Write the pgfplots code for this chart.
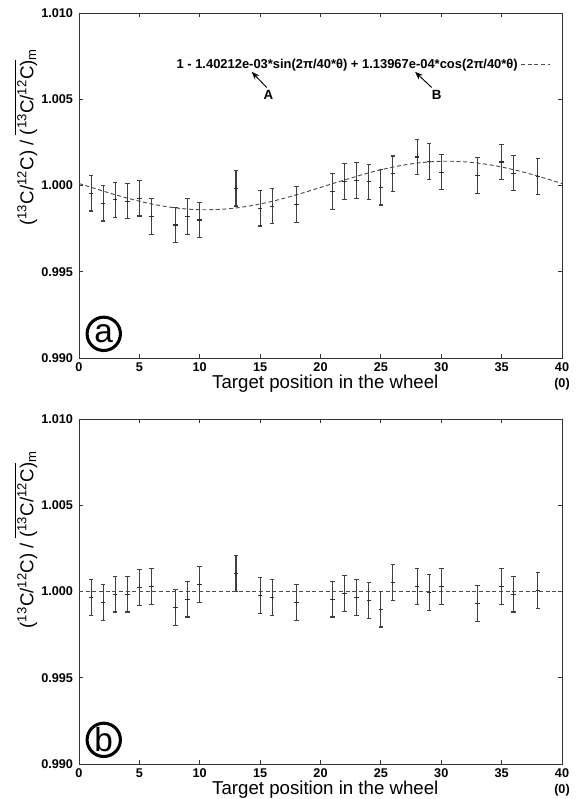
\documentclass[border=0pt]{standalone}
\usepackage{fontspec}
\setmainfont{Liberation Sans}
\usepackage{pgfplots}
\pgfplotsset{compat=1.18}
\usetikzlibrary{arrows.meta}

% measured ratios, top panel (raw)
\pgfplotstableread{
x y e
1 0.99955 0.00103
2 0.99897 0.00103
3 0.99917 0.00103
4 0.99909 0.00103
5 0.99926 0.00103
6 0.99820 0.00103
8 0.99771 0.00103
9 0.99820 0.00103
10 0.99800 0.00103
13 0.99984 0.00103
15 0.99868 0.00103
16 0.99880 0.00103
18 0.99890 0.00103
21 0.99964 0.00103
22 1.00023 0.00103
23 1.00029 0.00103
24 1.00021 0.00103
25 0.99990 0.00103
26 1.00068 0.00103
28 1.00165 0.00103
29 1.00140 0.00103
30 1.00078 0.00103
33 1.00058 0.00103
35 1.00136 0.00103
36 1.00072 0.00103
38 1.00052 0.00103
}\topdata

% fitted curve, read at each position
\pgfplotstableread{
x y
0 1.000114
1 0.999893
2 0.999675
3 0.999465
4 0.999268
5 0.999089
6 0.998933
7 0.998802
8 0.998702
9 0.998633
10 0.998598
11 0.998597
12 0.998631
13 0.998699
14 0.998799
15 0.998928
16 0.999084
17 0.999262
18 0.999458
19 0.999668
20 0.999886
21 1.000107
22 1.000325
23 1.000535
24 1.000732
25 1.000911
26 1.001067
27 1.001198
28 1.001298
29 1.001367
30 1.001402
31 1.001403
32 1.001369
33 1.001301
34 1.001201
35 1.001072
36 1.000916
37 1.000738
38 1.000542
39 1.000332
40 1.000114
}\fitdata

% corrected ratios, bottom panel
\pgfplotstableread{
x y e
1 0.99965 0.00104
2 0.99937 0.00104
3 0.99985 0.00104
4 0.99985 0.00104
5 1.00023 0.00104
6 1.00031 0.00104
8 0.99908 0.00104
9 0.99956 0.00104
10 1.00042 0.00104
13 1.00105 0.00104
15 0.99975 0.00104
16 0.99966 0.00104
18 0.99937 0.00104
21 0.99956 0.00104
22 0.99987 0.00104
23 0.99966 0.00104
24 0.99946 0.00104
25 0.99898 0.00104
26 1.00050 0.00104
28 1.00031 0.00104
29 0.99994 0.00104
30 1.00031 0.00104
33 0.99930 0.00104
35 1.00031 0.00104
36 0.99985 0.00104
38 1.00004 0.00104
}\botdata

\newcommand{\ratiolabel}{(\textsuperscript{13}C/\textsuperscript{12}C) / $\overline{\mbox{(\textsuperscript{13}C/\textsuperscript{12}C)}}$\textsubscript{m}}

\tikzset{
  fitline/.style={black!70, line width=0.7pt, dash pattern=on 3pt off 2pt},
  panelmark/.style={circle, draw, line width=2.3pt, minimum size=25pt, inner sep=0pt,
    font=\fontsize{25}{25}\selectfont},
}

\begin{document}
\begin{tikzpicture}
\path[use as bounding box] (0pt,0pt) rectangle (435pt,599.25pt);
\pgfplotsset{
  panel/.style={
    scale only axis, width=362.25pt, height=258.75pt,
    xmin=0, xmax=40, ymin=0.990, ymax=1.010,
    xtick={0,5,...,40}, xticklabels={0,5,10,15,20,25,30,35,40},
    ytick={0.990,0.995,1.000,1.005,1.010},
    yticklabels={0.990,0.995,1.000,1.005,1.010},
    tick align=inside, xtick pos=both, ytick pos=both,
    major tick length=3pt,
    axis line style={black!80, line width=0.6pt},
    tick style={black!80, line width=0.6pt},
    tick label style={font=\fontsize{9.5}{11}\selectfont\bfseries},
    yticklabel style={xshift=-1pt},
    label style={font=\fontsize{14}{16}\selectfont},
    xlabel={Target position in the wheel},
    xlabel style={at={(axis description cs:0.51,0)}, anchor=base, yshift=-23pt},
    ylabel={\ratiolabel},
    clip=false,
  },
  errplot/.style={only marks, black!80, mark=+, mark size=1.7pt,
    mark options={line width=0.8pt},
    error bars/.cd, y dir=both, y explicit,
    error bar style={line width=0.8pt, black!75},
    error mark options={rotate=90, mark size=1.7pt, line width=0.8pt, black!75}},
}

% ---- top panel ----
\begin{axis}[panel, at={(59.25pt,330.75pt)}, anchor=south west,
  ylabel style={at={(axis description cs:-0.11,0.64)}, anchor=center}]
\addplot[fitline, smooth] table[x=x,y=y] {\fitdata};
\addplot[errplot] table[x=x,y=y,y error=e] {\topdata};
\node[font=\fontsize{9.7}{12}\selectfont\bfseries, anchor=east, inner sep=0pt] at (axis cs:36.36,1.00699)
  {1 - 1.40212e-03*sin(2π/40*θ) + 1.13967e-04*cos(2π/40*θ)};
\draw[fitline] (axis cs:36.6,1.00699) -- (axis cs:39.0,1.00699);
\draw[-{Stealth[length=6pt,width=4.5pt]}, line width=0.7pt] (axis cs:15.54,1.00568) -- (axis cs:14.30,1.00659);
\draw[-{Stealth[length=6pt,width=4.5pt]}, line width=0.7pt] (axis cs:29.21,1.00568) -- (axis cs:27.83,1.00659);
\node[font=\fontsize{10}{12}\selectfont\bfseries] at (axis cs:15.68,1.00525) {A};
\node[font=\fontsize{10}{12}\selectfont\bfseries] at (axis cs:29.62,1.00525) {B};
\node[panelmark] at (axis cs:2.05,0.99140) {a};
\node[font=\fontsize{9.5}{11}\selectfont\bfseries, anchor=base] at ([yshift=-22pt]axis description cs:1,0) {(0)};
\end{axis}

% ---- bottom panel ----
\begin{axis}[panel, at={(59.25pt,26.25pt)}, anchor=south west,
  ylabel style={at={(axis description cs:-0.11,0.65)}, anchor=center}]
\addplot[fitline] coordinates {(0,1.000) (40,1.000)};
\addplot[errplot] table[x=x,y=y,y error=e] {\botdata};
\node[panelmark] at (axis cs:2.05,0.99140) {b};
\node[font=\fontsize{9.5}{11}\selectfont\bfseries, anchor=base] at ([yshift=-22pt]axis description cs:1,0) {(0)};
\end{axis}
\end{tikzpicture}
\end{document}
